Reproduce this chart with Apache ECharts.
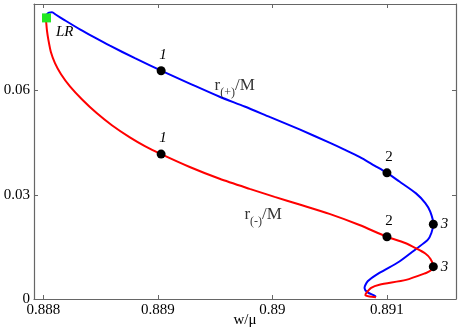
<!DOCTYPE html>
<html>
<head>
<meta charset="utf-8">
<title>r(+)/M, r(-)/M vs w/mu</title>
<script src="https://cdn.jsdelivr.net/npm/echarts@6.0.0/dist/echarts.min.js"></script>
<style>
    html, body { margin: 0; padding: 0; background: #fff; }
    #chart { width: 460px; height: 332px; }
</style>
</head>
<body>
<div id="chart"></div>
<script>
/* ===================== 数据 ===================== */
// r(+)/M branch (blue), ordered along the curve
var plusX = [0.888021, 0.888032, 0.888050, 0.888076, 0.888111, 0.888189, 0.888320, 0.888451, 0.888582,
    0.888800, 0.889029, 0.889279, 0.889540, 0.889758, 0.889976, 0.890238, 0.890499, 0.890630,
    0.890761, 0.890892, 0.891001, 0.891110, 0.891255, 0.891336, 0.891380, 0.891406, 0.891389,
    0.891357, 0.891255, 0.891110, 0.890935, 0.890833, 0.890805, 0.890833, 0.890892, 0.890905];
var plusY = [0.0810, 0.0819, 0.0824, 0.0825, 0.0818, 0.0802, 0.0776, 0.0752, 0.0729,
    0.0693, 0.0657, 0.0620, 0.0582, 0.0554, 0.0524, 0.0488, 0.0450, 0.0430,
    0.0409, 0.0384, 0.0363, 0.0338, 0.0304, 0.0276, 0.0251, 0.0215, 0.0190,
    0.0170, 0.0144, 0.0108, 0.0075, 0.0051, 0.0032, 0.0019, 0.0010, 0.0006];

// r(-)/M branch (red)
var minusX = [0.888021, 0.888024, 0.888032, 0.888045, 0.888067, 0.888102, 0.888155, 0.888233, 0.888337,
    0.888466, 0.888599, 0.888756, 0.888887, 0.889029, 0.889279, 0.889540, 0.889802, 0.890020,
    0.890238, 0.890499, 0.890761, 0.891001, 0.891154, 0.891255, 0.891336, 0.891380, 0.891406,
    0.891380, 0.891343, 0.891168, 0.890935, 0.890863, 0.890820, 0.890813, 0.890848, 0.890905];
var minusY = [0.0810, 0.0802, 0.0773, 0.0745, 0.0710, 0.0679, 0.0647, 0.0612, 0.0575,
    0.0535, 0.0500, 0.0465, 0.0440, 0.0417, 0.0380, 0.0346, 0.0317, 0.0294,
    0.0272, 0.0245, 0.0213, 0.0179, 0.0162, 0.0146, 0.0131, 0.0116, 0.0093,
    0.0081, 0.0075, 0.0055, 0.0041, 0.0032, 0.0017, 0.0011, 0.0007, 0.0005];

// 标记点 1,2,3
var markNames = ['1', '2', '3'];
var plusMarkX = [0.889029, 0.891001, 0.891406];
var plusMarkY = [0.0657, 0.0363, 0.0215];
var minusMarkX = [0.889029, 0.891001, 0.891406];
var minusMarkY = [0.0417, 0.0179, 0.0093];

// LR point
var lrPoint = [0.888028, 0.0809];

// 曲线名称的位置
var curveNames = ['plus', 'minus'];
var curveNameX = [0.889671, 0.889920];
var curveNameY = [0.0614, 0.0241];

// 坐标轴
var xTicks = [0.888, 0.889, 0.890, 0.891];
var yTicks = [0, 0.03, 0.06];
var xRange = [0.887919, 0.891604];
var yRange = [0, 0.0849];
/* ===================== end ===================== */

var FONT = 'Liberation Serif';
var AXIS_COLOR = '#666';

function zip(xs, ys) {
    return xs.map(function (x, i) { return [x, ys[i]]; });
}

function markData(xs, ys) {
    return xs.map(function (x, i) {
        var name = markNames[i];
        return {
            value: [x, ys[i]],
            label: {
                formatter: name,
                position: name === '3' ? 'right' : 'top',
                distance: name === '3' ? 3 : 4,
                offset: name === '3' ? [0, 0] : [2, 0],
                fontStyle: name === '2' ? 'normal' : 'italic'
            }
        };
    });
}

function axisBase(range, position, ticks) {
    return {
        type: 'value',
        min: range[0],
        max: range[1],
        position: position,
        axisLine: { show: true, onZero: false, lineStyle: { color: AXIS_COLOR, width: 1.2 } },
        axisTick: { show: true, inside: true, length: 4, customValues: ticks, lineStyle: { color: AXIS_COLOR } },
        axisLabel: { show: false },
        splitLine: { show: false }
    };
}

var chart = echarts.init(document.getElementById('chart'), null, { renderer: 'canvas' });

var xBottom = axisBase(xRange, 'bottom', xTicks);
xBottom.name = 'w/μ';
xBottom.nameLocation = 'middle';
xBottom.nameGap = 14;
xBottom.nameMoveOverlap = false;
xBottom.nameTextStyle = { fontFamily: FONT, fontSize: 15, color: '#000' };
xBottom.axisLabel = {
    customValues: xTicks, margin: 4, color: '#000', fontFamily: FONT, fontSize: 15,
    formatter: function (v) { return String(+v.toFixed(3)); }
};

var xTop = axisBase(xRange, 'top', xTicks);

var yLeft = axisBase(yRange, 'left', yTicks);
yLeft.axisLabel = {
    customValues: yTicks, margin: 4, color: '#000', fontFamily: FONT, fontSize: 15,
    formatter: function (v) { return String(+v.toFixed(2)); }
};

var yRight = axisBase(yRange, 'right', yTicks);

var nameRich = {
    m: { fontFamily: FONT, fontSize: 17, color: '#000', verticalAlign: 'bottom', lineHeight: 16 },
    s: { fontFamily: FONT, fontSize: 12, color: '#000', verticalAlign: 'bottom', lineHeight: 16, padding: [0, 0, -5, 0] }
};

var option = {
    animation: false,
    backgroundColor: '#fff',
    grid: { left: 34, right: 4, top: 4, bottom: 33, outerBoundsMode: 'none', containLabel: false },
    xAxis: [xBottom, xTop],
    yAxis: [yLeft, yRight],
    series: [
        {
            name: 'r(+)/M', type: 'line', data: zip(plusX, plusY),
            showSymbol: false, smooth: 0.25, lineStyle: { color: '#0000ff', width: 2 }, z: 2
        },
        {
            name: 'r(-)/M', type: 'line', data: zip(minusX, minusY),
            showSymbol: false, smooth: 0.25, lineStyle: { color: '#ff0000', width: 2 }, z: 2
        },
        {
            // 黑点 + 编号
            type: 'scatter', symbol: 'circle', symbolSize: 9,
            itemStyle: { color: '#000', opacity: 1 },
            label: { show: true, color: '#000', fontFamily: FONT, fontSize: 15 },
            data: markData(plusMarkX, plusMarkY).concat(markData(minusMarkX, minusMarkY)),
            z: 5
        },
        {
            // LR
            type: 'scatter', symbol: 'rect', symbolSize: 9,
            itemStyle: { color: '#22e822', opacity: 1 },
            label: {
                show: true, formatter: 'LR', position: 'right', offset: [0, 14],
                color: '#000', fontFamily: FONT, fontSize: 15, fontStyle: 'italic'
            },
            data: [lrPoint],
            z: 6
        },
        {
            // 曲线名称
            type: 'scatter', symbolSize: 0, silent: true,
            label: {
                show: true, position: 'inside',
                formatter: function (p) {
                    return p.name === 'plus' ? '{m|r}{s|(+)}{m|/M}' : '{m|r}{s|(-)}{m|/M}';
                },
                rich: nameRich
            },
            data: curveNames.map(function (n, i) {
                return { name: n, value: [curveNameX[i], curveNameY[i]] };
            }),
            z: 4
        }
    ]
};

chart.setOption(option);
</script>
</body>
</html>
